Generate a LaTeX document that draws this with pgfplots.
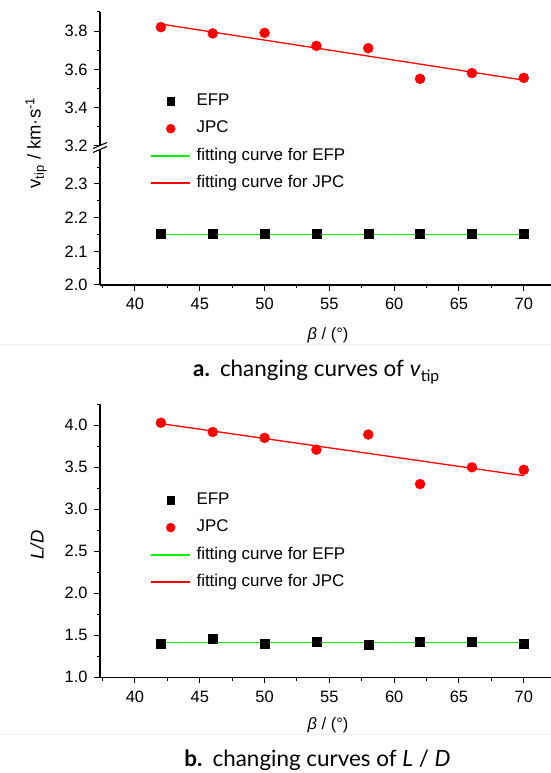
\documentclass[border=0pt]{standalone}
\usepackage{pgfplots}
\pgfplotsset{compat=1.18}
\usepackage{fontspec}
\setmainfont{Liberation Sans}
\newfontfamily\capfont{Lato}
\definecolor{fitgreen}{RGB}{0,240,0}
\definecolor{ptred}{RGB}{255,0,0}

\pgfplotsset{
  base/.style={
    scale only axis, width=451bp,
    xmin=37.3, xmax=72.1,
    axis line style={line width=1.1bp},
    every tick/.style={line width=1bp, black},
    major tick length=6bp, minor tick length=3.5bp,
    tick align=outside,
    ticklabel style={font=\fontsize{16.5}{19}\selectfont},
    xticklabel style={yshift=-4bp},
    yticklabel style={xshift=-3bp},
    /pgf/number format/assume math mode=true,
    yticklabel style={/pgf/number format/.cd, fixed, fixed zerofill, precision=1},
    xtick={40,45,...,70}, minor xtick={37.5,42.5,...,67.5},
    legend style={draw=none, fill=none, font=\fontsize{17}{19}\selectfont,
      nodes={inner sep=2.5bp, text height=12bp, text depth=3.5bp}, row sep=6.7bp,
      /tikz/every odd column/.append style={column sep=3bp}},
    legend cell align=left,
  },
  efpleg/.style={legend image code/.code={\fill[black] (15.7bp,-3.8bp) rectangle (23.3bp,3.8bp);}},
  jpcleg/.style={legend image code/.code={\fill[ptred] (19.5bp,0bp) circle[radius=4.5bp];}},
  gleg/.style={legend image code/.code={\draw[fitgreen, line width=1.5bp] (0bp,0bp) -- (39bp,0bp);}},
  rleg/.style={legend image code/.code={\draw[ptred, line width=1.5bp] (0bp,0bp) -- (39bp,0bp);}},
}

\begin{document}
\begin{tikzpicture}
\path[use as bounding box] (0bp,0bp) rectangle (551bp,773bp);
\draw[black!7, line width=0.8bp] (0bp,429bp) -- (551bp,429bp);
\draw[black!7, line width=0.8bp] (0bp,39bp) -- (551bp,39bp);

% ---------- panel a, lower part ----------
\begin{axis}[base, at={(100bp,488bp)}, anchor=south west, height=134.8bp,
  axis x line*=bottom, axis y line*=left,
  ymin=2.0, ymax=2.4, ytick={2.0,2.1,2.2,2.3}, minor ytick={2.05,2.15,2.25,2.35}]
\addplot[fitgreen, line width=1.3bp, forget plot] coordinates {(42,2.150) (70,2.150)};
\addplot[only marks, mark=square*, mark size=4.5bp, black, forget plot] coordinates {
(42,2.152) (46,2.152) (50,2.152) (54,2.152) (58,2.152) (62,2.152) (66,2.152) (70,2.152)};
\end{axis}

% ---------- panel a, upper part ----------
\begin{axis}[base, at={(100bp,627bp)}, anchor=south west, height=134bp,
  axis x line=none, axis y line*=left,
  ymin=3.2, ymax=3.9, ytick={3.2,3.4,3.6,3.8}, minor ytick={3.3,3.5,3.7,3.9},
  legend style={at={(rel axis cs:0.105,0.425)}, anchor=north west}]
\addlegendimage{efpleg}
\addlegendentry{EFP}
\addlegendimage{jpcleg}
\addlegendentry{JPC}
\addlegendimage{gleg}
\addlegendentry{fitting curve for EFP}
\addlegendimage{rleg}
\addlegendentry{fitting curve for JPC}
\addplot[ptred, line width=1.3bp, forget plot] coordinates {(42,3.837) (70,3.544)};
\addplot[only marks, mark=*, mark size=5bp, ptred, forget plot] coordinates {
(42,3.821) (46,3.788) (50,3.791) (54,3.723) (58,3.711) (62,3.551) (66,3.581) (70,3.556)};
\end{axis}

% axis break mark
\fill[white] (93bp,620bp) -- (107bp,626bp) -- (107bp,630bp) -- (93bp,624bp) -- cycle;
\draw[line width=1.1bp] (93bp,620.5bp) -- (107bp,626.5bp);
\draw[line width=1.1bp] (93bp,624.5bp) -- (107bp,630.5bp);

\node[rotate=90, font=\fontsize{18.5}{21}\selectfont] at (36bp,630bp) {v\textsubscript{tip} / km·s\textsuperscript{-1}};
\node[font=\fontsize{16.5}{19}\selectfont] at (328bp,438bp) {\textit{β} / (°)};
\node[font=\capfont\fontsize{22.5}{26}\selectfont, anchor=base] at (316.5bp,396bp) {\textbf{a.}\hspace{0.45em}changing curves of \textit{v}\textsubscript{tip}};

% ---------- panel b ----------
\begin{axis}[base, at={(100bp,95.7bp)}, anchor=south west, height=273bp,
  axis x line*=bottom, axis y line*=left,
  ymin=1.0, ymax=4.25, ytick={1.0,1.5,...,4.0}, minor ytick={1.25,1.75,...,4.25},
  legend style={at={(rel axis cs:0.105,0.6935)}, anchor=north west}]
\addlegendimage{efpleg}
\addlegendentry{EFP}
\addlegendimage{jpcleg}
\addlegendentry{JPC}
\addlegendimage{gleg}
\addlegendentry{fitting curve for EFP}
\addlegendimage{rleg}
\addlegendentry{fitting curve for JPC}
\addplot[ptred, line width=1.3bp, forget plot] coordinates {(42,4.02) (70,3.40)};
\addplot[only marks, mark=*, mark size=5bp, ptred, forget plot] coordinates {
(42,4.03) (46,3.92) (50,3.85) (54,3.71) (58,3.89) (62,3.30) (66,3.50) (70,3.47)};
\addplot[fitgreen, line width=1.3bp, forget plot] coordinates {(42,1.417) (70,1.417)};
\addplot[only marks, mark=square*, mark size=4.5bp, black, forget plot] coordinates {
(42,1.40) (46,1.46) (50,1.405) (54,1.42) (58,1.39) (62,1.42) (66,1.42) (70,1.405)};
\end{axis}

\node[rotate=90, font=\fontsize{18.5}{21}\selectfont] at (37bp,228bp) {\textit{L/D}};
\node[font=\fontsize{16.5}{19}\selectfont] at (328bp,48bp) {\textit{β} / (°)};
\node[font=\capfont\fontsize{22.5}{26}\selectfont, anchor=base] at (317.5bp,6.3bp) {\textbf{b.}\hspace{0.45em}changing curves of \textit{L} / \textit{D}};
\end{tikzpicture}
\end{document}
